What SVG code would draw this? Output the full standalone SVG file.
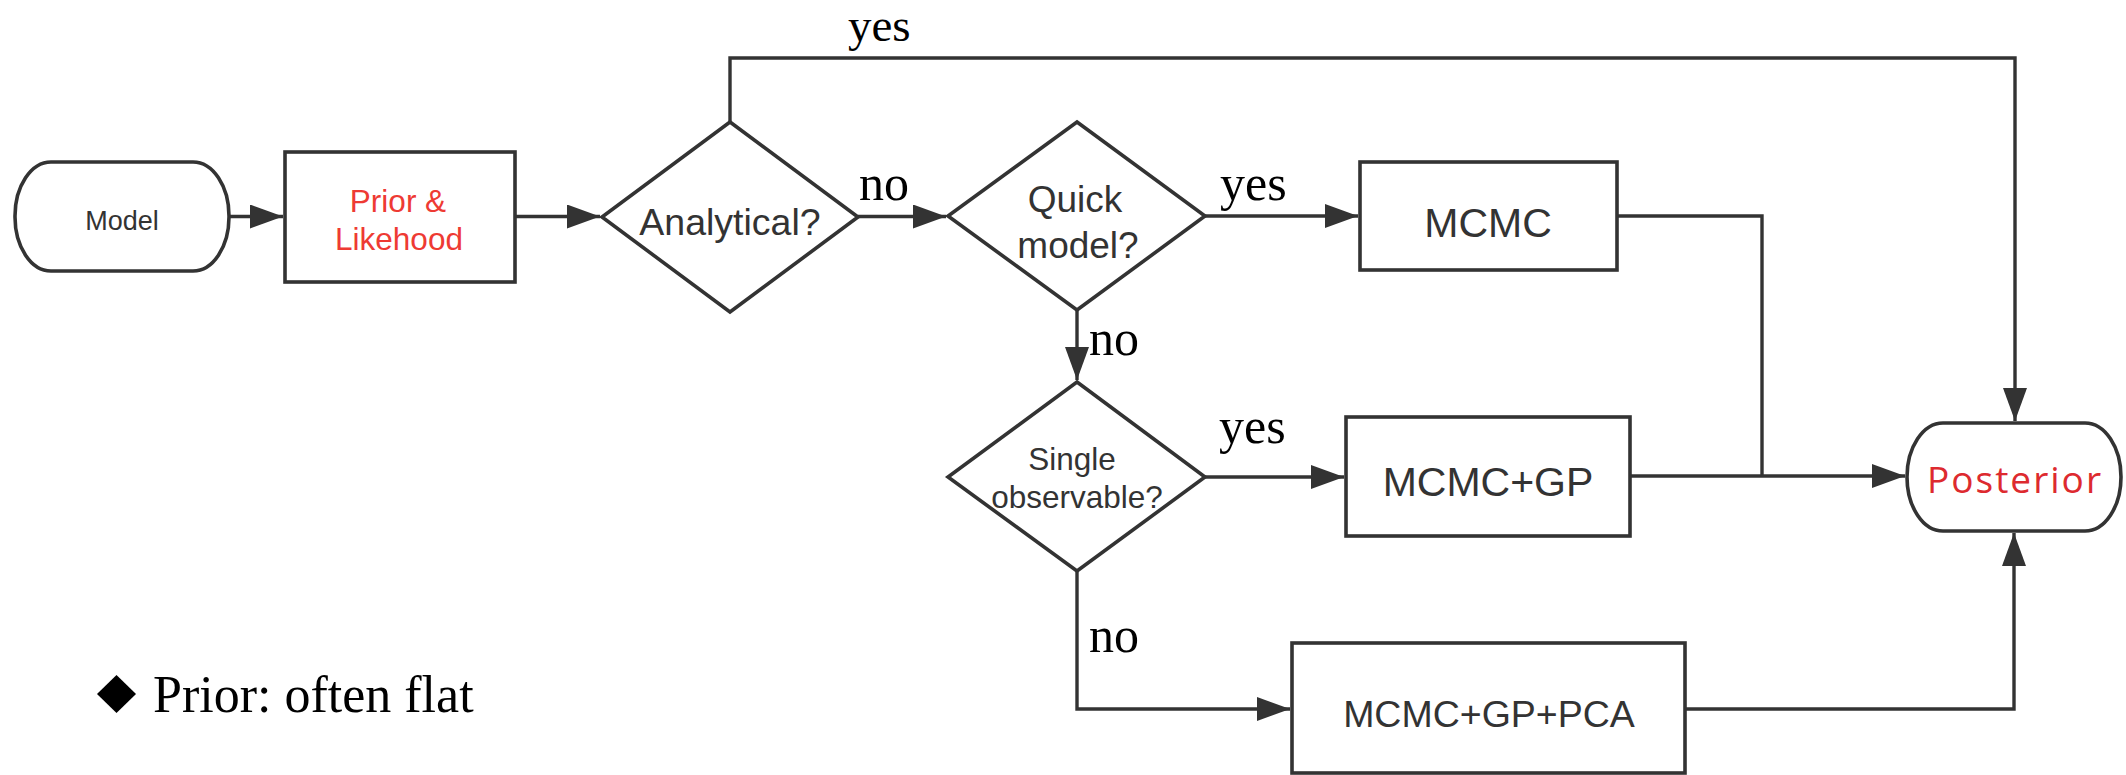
<svg xmlns="http://www.w3.org/2000/svg" width="2126" height="775" viewBox="0 0 2126 775">
<style>
.shape{fill:#fff;stroke:#333;stroke-width:3.6}
.conn{fill:none;stroke:#333;stroke-width:3.4}
.t{font-family:"Liberation Sans",Arial,sans-serif;fill:#333;text-anchor:middle}
.red{fill:#ee3a33}
.post{font-family:"Open Sans","Noto Sans",sans-serif;fill:#dd2a2f}
.lbl{font-family:"Liberation Serif","Times New Roman",serif;fill:#000;font-size:50px}
</style>
<defs>
<marker id="arr" markerUnits="userSpaceOnUse" markerWidth="34" markerHeight="24" refX="33" refY="12" orient="auto">
<path d="M0,0 L33,12 L0,24 Z" fill="#333"/>
</marker>
</defs>
<rect width="2126" height="775" fill="#fff"/>
<g id="connectors">
<path class="conn" d="M229,216.5 H283" marker-end="url(#arr)"/>
<path class="conn" d="M515,216.5 H600" marker-end="url(#arr)"/>
<path class="conn" d="M858,216.5 H946" marker-end="url(#arr)"/>
<path class="conn" d="M730,122 V58 H2015 V421" marker-end="url(#arr)"/>
<path class="conn" d="M1205,216 H1358" marker-end="url(#arr)"/>
<path class="conn" d="M1077,310 V380" marker-end="url(#arr)"/>
<path class="conn" d="M1205,477 H1344" marker-end="url(#arr)"/>
<path class="conn" d="M1077,571 V709 H1290" marker-end="url(#arr)"/>
<path class="conn" d="M1617,216 H1762 V476"/>
<path class="conn" d="M1630,476 H1905" marker-end="url(#arr)"/>
<path class="conn" d="M1685,709 H2014 V533" marker-end="url(#arr)"/>
</g>
<g id="labels">
<text class="lbl" x="848" y="41" font-size="47" style="font-size:47px">yes</text>
<text class="lbl" x="859" y="200">no</text>
<text class="lbl" x="1220" y="200">yes</text>
<text class="lbl" x="1089" y="355">no</text>
<text class="lbl" x="1219" y="443">yes</text>
<text class="lbl" x="1089" y="652">no</text>
</g>
<g id="model">
<rect class="shape" x="15" y="162" width="214" height="109" rx="36" ry="54"/>
<text class="t" x="122" y="230" font-size="27">Model</text>
</g>
<g id="prior">
<rect class="shape" x="285" y="152" width="230" height="130"/>
<text class="t red" x="398" y="212" font-size="31.5">Prior &amp;</text>
<text class="t red" x="399" y="250" font-size="31.5">Likehood</text>
</g>
<g id="analytical">
<polygon class="shape" points="730,122 858,217 730,312 602,217"/>
<text class="t" x="730" y="235" font-size="37.5">Analytical?</text>
</g>
<g id="quick">
<polygon class="shape" points="1077,122 1205,216 1077,310 948,216"/>
<text class="t" x="1075" y="212" font-size="37">Quick</text>
<text class="t" x="1078" y="258" font-size="37">model?</text>
</g>
<g id="single">
<polygon class="shape" points="1077,382 1205,477 1077,571 948,477"/>
<text class="t" x="1072" y="470" font-size="31.5">Single</text>
<text class="t" x="1077" y="508" font-size="31.5">observable?</text>
</g>
<g id="mcmc">
<rect class="shape" x="1360" y="162" width="257" height="108"/>
<text class="t" x="1488" y="237" font-size="41">MCMC</text>
</g>
<g id="mcmcgp">
<rect class="shape" x="1346" y="417" width="284" height="119"/>
<text class="t" x="1488" y="496" font-size="41">MCMC+GP</text>
</g>
<g id="mcmcgppca">
<rect class="shape" x="1292" y="643" width="393" height="130"/>
<text class="t" x="1489" y="727" font-size="37.5">MCMC+GP+PCA</text>
</g>
<g id="posterior">
<rect class="shape" x="1907" y="423" width="214" height="108" rx="36" ry="54"/>
<text class="post" x="1927" y="493" font-size="37" textLength="174" lengthAdjust="spacing">Posterior</text>
</g>
<g id="legend">
<polygon points="116.5,675 136,694 116.5,713 97,694" fill="#000"/>
<text class="lbl" x="153" y="712" style="font-size:52px">Prior: often flat</text>
</g>
</svg>
